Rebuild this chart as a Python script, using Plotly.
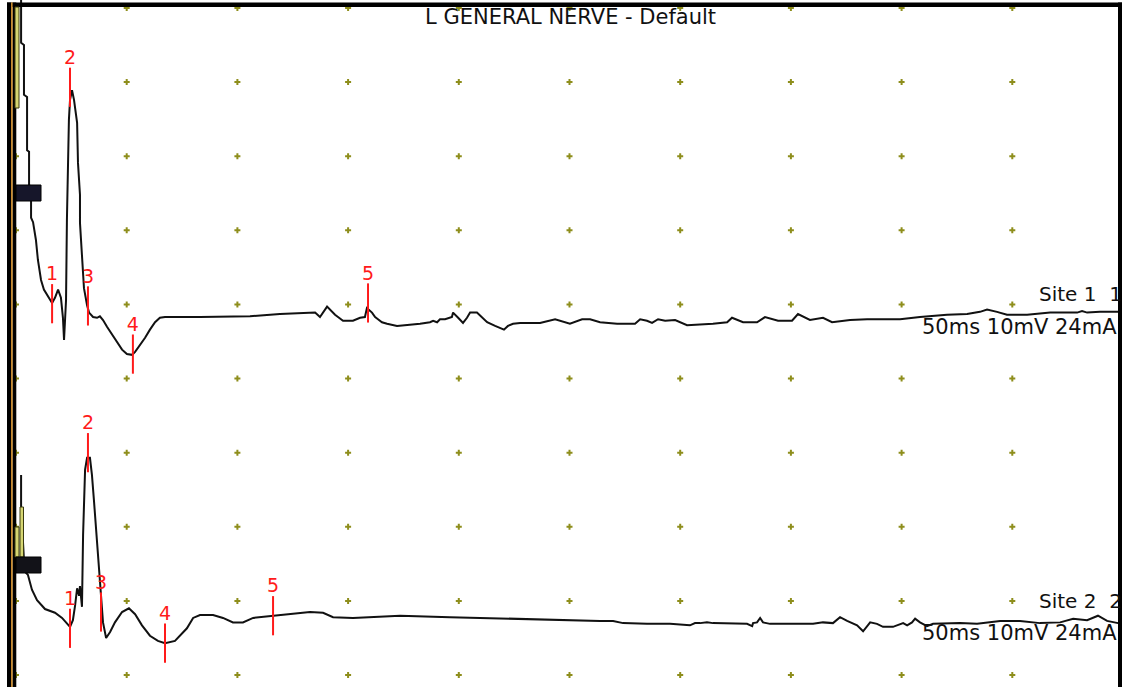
import plotly.graph_objects as go

# ---------------- data (time in ms, amplitude in mV relative to each trace baseline) ----------------
site1_t = [2.3, 2.3, 3.6, 3.6, 5.0, 5.0, 5.9, 5.9, 6.8, 6.8,
           7.7, 9.0, 9.9, 11.3, 12.6, 14.5, 16.3, 17.6, 19.0, 20.3,
           21.2, 21.7, 22.6, 23.0, 23.5, 23.9, 24.4, 25.3, 26.2, 27.6,
           28.0, 28.9, 28.9, 29.8, 30.7, 32.1, 33.0, 34.8, 36.6, 37.9,
           39.3, 41.1, 43.4, 45.6, 47.9, 50.1, 52.4, 53.8, 56.0, 58.3,
           60.5, 62.8, 65.0, 67.3, 83.1, 105.7, 119.2, 135.1, 137.3, 140.5,
           144.1, 147.7, 152.2, 155.4, 157.6, 158.5, 160.8, 162.2, 163.5, 165.3,
           167.6, 172.1, 182.5, 187.0, 188.4, 190.2, 191.5, 193.8, 196.9, 197.4,
           199.7, 201.9, 203.7, 205.1, 208.2, 210.5, 212.8, 216.4, 219.5, 220.4,
           222.2, 224.5, 227.7, 236.7, 243.5, 250.2, 255.7, 259.3, 263.8, 271.5,
           279.6, 281.9, 285.0, 287.3, 290.0, 293.2, 297.7, 303.1, 314.8, 321.2,
           323.4, 328.4, 334.7, 338.3, 344.2, 350.5, 353.2, 358.6, 364.5, 368.6,
           376.7, 384.4, 399.3, 408.3, 420.5, 429.6, 435.4, 438.6, 443.1, 447.6,
           456.7, 467.1, 479.3, 481.5, 483.8, 489.6, 497.8]
site1_mv = [43.8, 37.3, 37.0, 30.3, 30.0, 22.8, 22.6, 18.1, 17.9, 13.7,
            13.1, 10.7, 8.0, 5.3, 4.0, 3.1, 2.2, 2.9, 4.0, 2.9,
            0.2, -2.8, 2.6, 13.4, 22.8, 26.9, 29.6, 30.9, 29.6, 26.5,
            21.1, 16.8, 13.0, 8.0, 4.2, 1.9, 0.9, 0.3, 0.2, 0.4,
            -0.1, -1.0, -2.1, -3.1, -4.1, -4.7, -4.8, -4.4, -3.5, -2.5,
            -1.4, -0.4, 0.2, 0.3, 0.3, 0.4, 0.7, 0.9, 0.3, 1.7,
            0.6, -0.2, -0.2, 0.2, 0.3, 1.5, 0.9, 0.3, 0.0, -0.4,
            -0.6, -0.9, -0.6, -0.4, -0.2, -0.4, 0.0, 0.0, 0.3, 0.9,
            0.2, -0.5, 0.2, 0.9, 0.9, 0.3, -0.4, -0.9, -1.3, -1.4,
            -0.9, -0.6, -0.5, -0.5, 0.0, -0.6, 0.0, 0.0, -0.4, -0.6,
            -0.6, 0.0, -0.2, -0.5, 0.0, -0.2, -0.1, -0.8, -0.6, -0.4,
            0.2, -0.4, -0.4, 0.3, -0.2, -0.2, 0.7, -0.1, 0.2, -0.4,
            -0.1, 0.0, 0.0, 0.3, 0.6, 0.7, 1.0, 1.3, 1.0, 0.6,
            0.6, 0.9, 0.9, 1.1, 0.9, 1.0, 1.0]

site2_t = [2.3, 2.3, 3.6, 4.5, 5.4, 7.2, 9.5, 13.1, 17.6, 20.8,
           24.4, 25.7, 26.7, 27.6, 28.5, 28.9, 29.8, 30.3, 31.2, 32.1,
           33.4, 34.3, 35.2, 36.1, 37.0, 37.9, 39.3, 40.7, 42.5, 44.7,
           47.9, 51.0, 53.8, 56.9, 60.5, 64.1, 67.3, 71.8, 74.1, 77.2,
           80.0, 83.1, 89.0, 93.5, 98.0, 102.5, 107.1, 110.2, 116.1, 123.8,
           132.8, 138.7, 143.2, 152.2, 158.5, 173.5, 196.0, 218.6, 241.2, 263.8,
           269.7, 274.2, 285.0, 295.4, 304.4, 306.7, 309.0, 312.1, 314.8, 327.0,
           330.2, 332.5, 332.9, 334.7, 336.1, 337.4, 340.6, 360.0, 364.5, 369.0,
           372.2, 375.4, 379.9, 382.6, 384.4, 385.8, 388.9, 391.6, 396.1, 400.7,
           402.5, 404.7, 406.1, 408.3, 411.5, 414.2, 426.4, 434.1, 444.5, 453.5,
           462.5, 471.6, 477.5, 483.8, 488.7, 492.8, 497.8]
site2_mv = [20.0, 15.7, 8.5, 6.8, 6.5, 4.5, 3.1, 1.9, 1.4, 0.7,
            -0.5, 0.4, 2.4, 4.7, 3.7, 5.0, 2.2, 11.9, 20.7, 22.3,
            22.3, 20.0, 16.6, 13.0, 8.2, 5.1, 0.1, -2.0, -1.2, 0.1,
            1.5, 2.0, 1.2, -0.3, -1.7, -2.4, -2.7, -2.4, -1.7, -0.7,
            0.7, 1.1, 1.1, 0.7, 0.1, 0.1, 0.7, 0.8, 1.0, 1.2,
            1.5, 1.4, 0.8, 0.7, 0.8, 1.0, 0.8, 0.6, 0.4, 0.3,
            0.3, 0.0, -0.1, -0.1, -0.3, 0.0, 0.0, 0.1, 0.0, 0.0,
            -0.1, -0.4, 0.0, 0.1, 0.7, 0.1, -0.1, -0.1, 0.1, 0.0,
            0.8, 0.3, -0.3, -1.1, -0.4, 0.1, -0.1, -0.5, -0.5, 0.0,
            -0.3, 0.1, 0.6, 0.1, -0.4, -0.1, 0.0, -0.1, 0.3, 0.3,
            0.0, 0.1, 0.6, 0.4, 1.0, 0.3, 0.0]

marker_labels = ["1", "2", "3", "4", "5"]
site1_marker_t = [16.3, 24.4, 32.5, 52.8, 159.0]
site1_marker_mv = [2.1, 31.3, 1.8, -4.7, 2.2]
site2_marker_t = [24.4, 32.5, 38.4, 67.3, 116.1]
site2_marker_mv = [-0.7, 23.0, 1.5, -2.7, 1.0]

title_text = "L GENERAL NERVE - Default"
site_names = ["Site 1  1", "Site 2  2"]
settings_text = "50ms 10mV 24mA"

grid_t = [0, 50, 100, 150, 200, 250, 300, 350, 400, 450]
grid_mv = [0, 10, 20, 30, 40, 50, 60, 70, 80, 90]

# ---------------- layout constants ----------------
W, H = 1127, 687
SITE1_OFFSET = 48.0
SITE2_OFFSET = 7.0
FONT = "DejaVu Sans"
RED = "#ff1a1a"
assert len(site1_t) == len(site1_mv) and len(site2_t) == len(site2_mv)

fig = go.Figure()

# grid dots
gx = [t for t in grid_t for _ in grid_mv]
gy = [v for _ in grid_t for v in grid_mv]
fig.add_trace(go.Scatter(x=gx, y=gy, mode="markers", hoverinfo="skip",
                         marker=dict(symbol="cross", size=5, color="#8e8e1c",
                                     line=dict(width=0))))

# traces
for t, mv, off in [(site1_t, site1_mv, SITE1_OFFSET), (site2_t, site2_mv, SITE2_OFFSET)]:
    fig.add_trace(go.Scatter(x=t, y=[v + off for v in mv], mode="lines",
                             line=dict(color="#111111", width=2), hoverinfo="skip"))

# latency markers
for t, mv, off in [(site1_marker_t, site1_marker_mv, SITE1_OFFSET),
                   (site2_marker_t, site2_marker_mv, SITE2_OFFSET)]:
    fig.add_trace(go.Scatter(x=t, y=[v + off for v in mv], mode="markers+text",
                             text=marker_labels, textposition="top center",
                             textfont=dict(family=FONT, size=19, color=RED),
                             marker=dict(symbol="line-ns", size=28, color=RED,
                                         line=dict(color=RED, width=2)),
                             hoverinfo="skip", cliponaxis=False))


def px_rect(x0, y0, x1, y1, color, line_color=None, lw=0):
    return dict(type="rect", xref="paper", yref="paper", layer="above",
                x0=x0 / W, x1=x1 / W, y0=1 - y1 / H, y1=1 - y0 / H,
                fillcolor=color, line=dict(color=line_color or color, width=lw))


shapes = [
    px_rect(7, 2.5, 1122, 7, "#000000"),          # top frame
    px_rect(7, 2.5, 11, 687, "#000000"),          # left frame
    px_rect(11, 2.5, 12.8, 687, "#c8892c"),
    px_rect(12.8, 2.5, 16.3, 687, "#000000"),
    px_rect(1118, 2.5, 1122, 687, "#000000"),     # right frame
    px_rect(1122, 0, W, H, "#ffffff"),
    px_rect(15, 7, 19, 108, "#d6d672", "#3a3a10", 1),   # stimulus artefact highlights
    px_rect(15, 527, 19, 557, "#d6d672", "#3a3a10", 1),
    px_rect(20, 507, 23.5, 557, "#d6d672", "#3a3a10", 1),
    px_rect(16, 185, 41, 201, "#16162a", "#000000", 1),  # baseline handles
    px_rect(16, 557, 41, 573, "#121218", "#000000", 1),
]

annotations = [
    dict(text=title_text, x=570 / W, y=1 - 17 / H, xanchor="center", yanchor="middle", size=21),
    dict(text=site_names[0], x=1037 / W, y=1 - 294 / H, xanchor="left", yanchor="middle", size=20),
    dict(text=settings_text, x=920 / W, y=1 - 327 / H, xanchor="left", yanchor="middle", size=21),
    dict(text=site_names[1], x=1037 / W, y=1 - 601 / H, xanchor="left", yanchor="middle", size=20),
    dict(text=settings_text, x=920 / W, y=1 - 633 / H, xanchor="left", yanchor="middle", size=21),
]
for a in annotations:
    fs = a.pop("size")
    a.update(xref="paper", yref="paper", showarrow=False,
             font=dict(family=FONT, size=fs, color="#111111"))

x_lo = -16 / 2.214
x_hi = (W - 16) / 2.214
y_hi = 90 + 8 / 7.41
y_lo = -(H - 675) / 7.41

fig.update_layout(
    width=W, height=H, margin=dict(l=0, r=0, t=0, b=0),
    paper_bgcolor="white", plot_bgcolor="white", showlegend=False,
    xaxis=dict(range=[x_lo, x_hi], visible=False, fixedrange=True),
    yaxis=dict(range=[y_lo, y_hi], visible=False, fixedrange=True),
    shapes=shapes, annotations=annotations,
)

fig.write_html("out.html", config={"displayModeBar": False},
               post_script="document.body.style.margin='0';")
